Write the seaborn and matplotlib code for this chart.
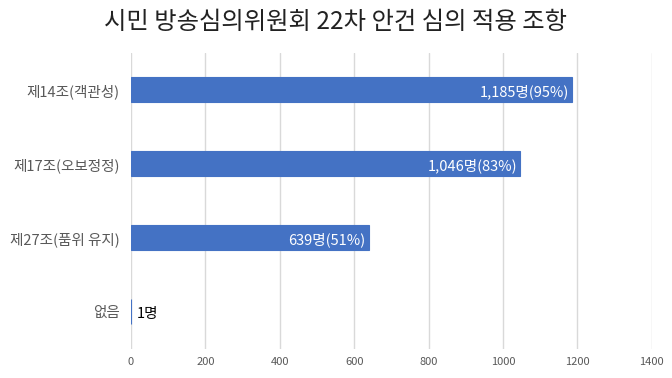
import matplotlib
matplotlib.use("Agg")
import matplotlib.pyplot as plt
import seaborn as sns
import pandas as pd

categories = ["제14조(객관성)", "제17조(오보정정)", "제27조(품위 유지)", "없음"]
values = [1185, 1046, 639, 1]
percents = ["95%", "83%", "51%", None]
title = "시민 방송심의위원회 22차 안건 심의 적용 조항"
xticks = [0, 200, 400, 600, 800, 1000, 1200, 1400]

sns.set_theme(style="white")
plt.rcParams['font.family'] = ['Noto Sans CJK KR', 'DejaVu Sans']

df = pd.DataFrame({"category": categories, "value": values})

fig = plt.figure(figsize=(6.72, 3.78), dpi=100)
ax = fig.add_axes([0.195, 0.077, 0.775, 0.783])

sns.barplot(data=df, y="category", x="value", orient="h", color="#4472C4",
            saturation=1, width=0.34, ax=ax, zorder=3,
            edgecolor="#4472C4", linewidth=0.8)

ax.set_xlim(0, 1400)
ax.set_xticks(xticks)
ax.set_xticklabels([str(t) for t in xticks], fontsize=8, color="#595959")
ax.tick_params(axis="y", labelsize=10.5, labelcolor="#595959", length=0, pad=8)
ax.tick_params(axis="x", length=0, pad=6)
ax.grid(axis="x", color="#d9d9d9", linewidth=1, zorder=0)
for s in ax.spines.values():
    s.set_visible(False)
ax.set_xlabel("")
ax.set_ylabel("")

for i, (v, p) in enumerate(zip(values, percents)):
    if p is not None:
        ax.text(v - 8, i + 0.03, f"{v:,}명({p})", ha="right", va="center",
                color="white", fontsize=10.5)
    else:
        ax.text(v + 15, i + 0.03, f"{v:,}명", ha="left", va="center",
                color="black", fontsize=10.5)

fig.suptitle(title, fontsize=17.5, color="#222222", y=0.975)

fig.savefig("out.png", dpi=100)
